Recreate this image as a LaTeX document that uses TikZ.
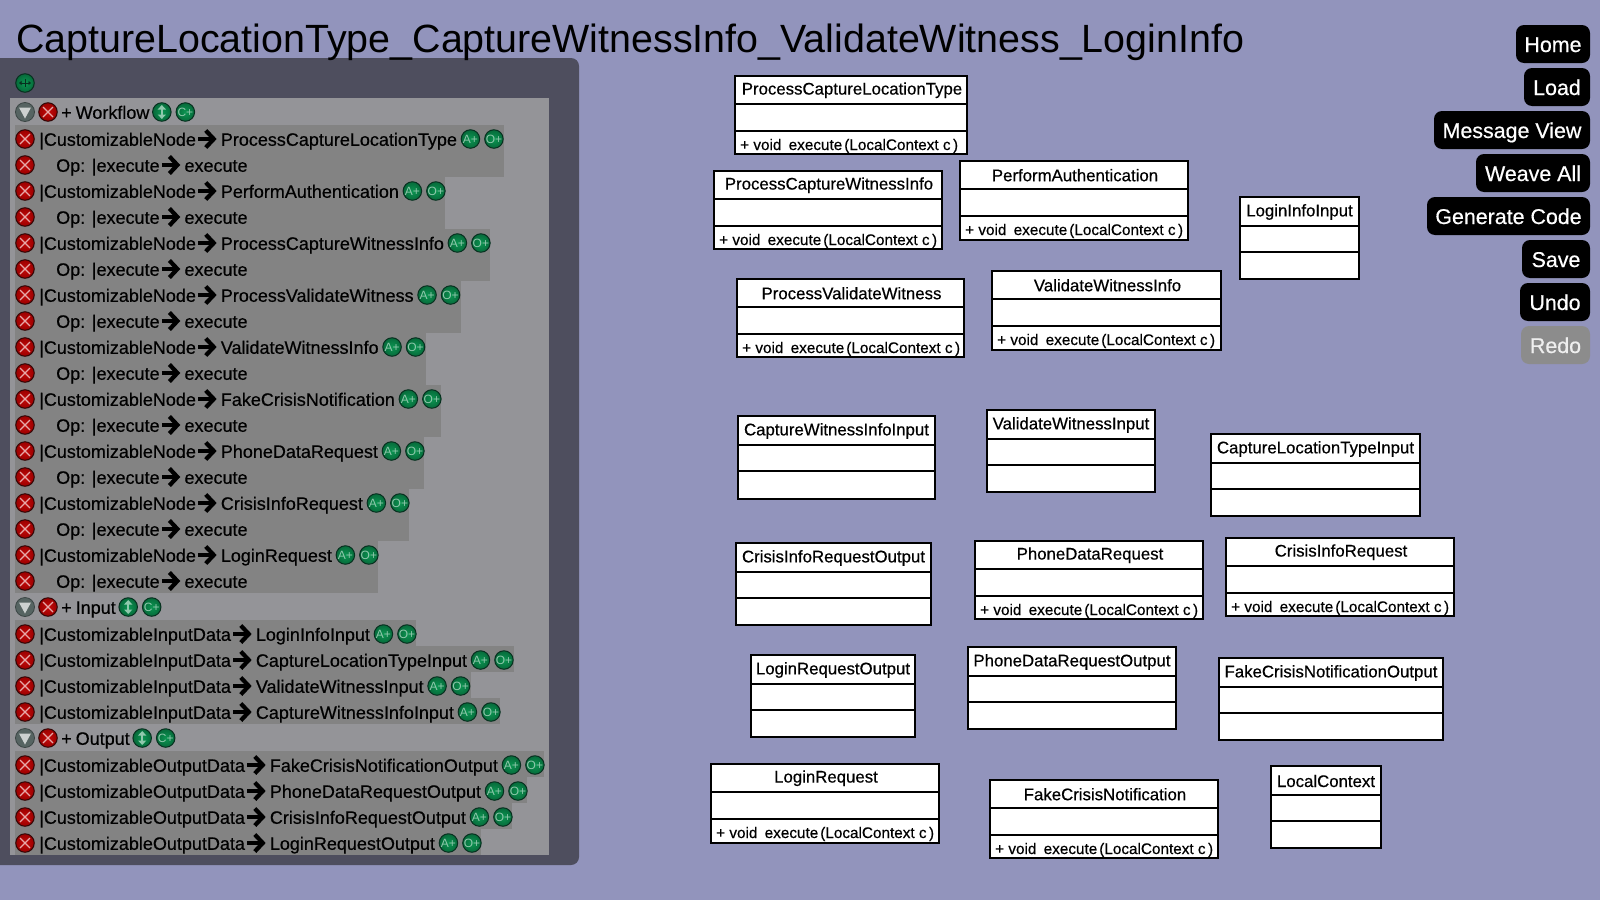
\documentclass[tikz,border=0pt]{standalone}
\usepackage{fontspec}
\setmainfont[FakeBold=0.5]{Liberation Sans}
\newfontfamily\plainfont{Liberation Sans}
\usetikzlibrary{arrows.meta,calc,positioning}
\definecolor{pagebg}{HTML}{9294BC}
\definecolor{panelbg}{HTML}{4E4E5E}
\definecolor{innerbg}{HTML}{949498}
\definecolor{bandbg}{HTML}{838383}
\definecolor{greenb}{HTML}{066A3A}
\definecolor{greenl}{HTML}{0C9552}
\definecolor{greend}{HTML}{07301F}
\definecolor{greent}{HTML}{8FC8AC}
\definecolor{redb}{HTML}{9A0000}
\definecolor{redl}{HTML}{C40A0A}
\definecolor{redd}{HTML}{320606}
\definecolor{xcol}{HTML}{E6A8A8}
\definecolor{greyb}{HTML}{566462}
\definecolor{redotext}{HTML}{EEEEEE}
\newcommand{\fsz}[1]{\fontsize{#1pt}{#1pt}\selectfont}
\tikzset{
  x=1pt,y=-1pt,
  rowtext/.style={inner sep=0pt,text height=15pt,text depth=0pt,anchor=base west,font=\fsz{18},text=black},
  bigarrow/.style={line width=4.2pt,shorten <=2pt,shorten >=4pt,-{Straight Barb[length=8pt,width=17pt,line width=4.2pt]}},
  roundbtn/.style={circle,inner sep=0pt,minimum size=18.5pt,draw=#1d,line width=1pt,shading=radial,inner color=#1l,outer color=#1b},
  greenbtn/.style={roundbtn=green,text=greent,font=\plainfont\fsz{12}},
  redbtn/.style={roundbtn=red},
  greybtn/.style={circle,inner sep=0pt,minimum size=19pt,fill=greyb,draw=greyb!70!black,line width=.8pt},
  umlbox/.style={rectangle,draw=black,fill=white,line width=2pt,inner sep=0pt},
  umlrule/.style={draw=black,line width=2pt},
  umltitle/.style={inner sep=0pt,font=\fsz{16.8},text=black},
  umlop/.style={inner sep=0pt,font=\fsz{15.3},text=black,anchor=base west},
  navbtn/.style={rectangle,rounded corners=8pt,fill=black,text=white,font=\fsz{21.4},inner sep=0pt,text height=16pt,text depth=0pt},
  xmark/.style={draw=xcol,line width=1.3pt},
  updown/.style={draw=greent,line width=1.8pt,{Triangle[length=4.5pt,width=8pt]}-{Triangle[length=4.5pt,width=8pt]}},
  leftright/.style={draw=greend,line width=.8pt,{Triangle[length=2.5pt,width=4pt]}-{Triangle[length=2.5pt,width=4pt]}},
}
\newcommand{\bandrect}[3]{\fill[bandbg] (15,#1) rectangle (#3,#2);}
\newcommand{\xbtn}[2]{% name, position
  \node[redbtn] (#1) at #2 {};
  \draw[xmark] ($(#1.center)+(-5,-5)$) -- ($(#1.center)+(5,5)$);
  \draw[xmark] ($(#1.center)+(-5,5)$) -- ($(#1.center)+(5,-5)$);
}
\newcommand{\listrow}[5]{% id, y, x-start, left, right
  \xbtn{#1x}{(25,#2)}
  \node[rowtext] (#1l) at (#3,#2+6.8) {#4};
  \node[rowtext] (#1r) at ([xshift=24.5pt,yshift=-7.5pt]#1l.east) {#5};
  \draw[bigarrow] (#1l.east) ++(0,.7) -- ($(#1r.west)+(0,.7)$);
}
\newcommand{\listadd}[1]{%
  \node[greenbtn,anchor=west] (#1a) at ($(#1r.east)+(3.5,.7)$) {A+};
  \node[greenbtn,right=4pt of #1a.east] (#1o) {O+};
}
\newcommand{\headrow}[3]{% id,y,text
  \node[greybtn] (#1g) at (25,#2) {};
  \fill[greyb!30!white] ($(#1g.center)+(-6,-4.5)$) -- ++(12,0) -- ++(-6,11) -- cycle;
  \xbtn{#1x}{(48,#2)}
  \node[rowtext] (#1t) at (61,#2+6.8) {+\hspace{-1pt} #3};
  \node[greenbtn,anchor=west] (#1u) at ($(#1t.east)+(2.5,.7)$) {};
  \draw[updown] ($(#1u.center)+(0,-7)$) -- ($(#1u.center)+(0,7)$);
  \node[greenbtn,right=4pt of #1u.east] (#1c) {C+};
}
\newcommand{\umlgeom}[8]{% id,title,x1,x2,y1,y2,title dx,title dy
  \node[umlbox,minimum width=#4pt-#3pt,minimum height=#6pt-#5pt] (#1) at ({(#3+#4)/2},{(#5+#6)/2}) {};
  \node[umltitle] (#1t) at ({(#3+#4)/2+#7},#5+#8) {#2};
}
\newcommand{\umlops}[6]{%
  \umlgeom{#1}{#2}{#3}{#4}{#5}{#6}{1}{14.2}
  \draw[umlrule] (#1.north west |- 0,#5+28) -- (#1.north east |- 0,#5+28);
  \draw[umlrule] (#1.north west |- 0,#5+55) -- (#1.north east |- 0,#5+55);
  \node[umlop] (#1o) at (#3+5,#5+74) {+ void\hspace{3pt} execute\hspace{2pt}(LocalContext c\hspace{2.5pt})};
}
\newcommand{\umlempty}[6]{%
  \umlgeom{#1}{#2}{#3}{#4}{#5}{#6}{0}{15}
  \draw[umlrule] (#1.north west |- 0,#5+29) -- (#1.north east |- 0,#5+29);
  \draw[umlrule] (#1.north west |- 0,#5+55) -- (#1.north east |- 0,#5+55);
}
\newcommand{\navb}[4][black]{% fill, text, left, y
  \node[navbtn,fill=#1,minimum width=1590pt-#3pt,minimum height=38pt] (nav#3) at ({(1590+#3)/2},#4) {#2};
}
\begin{document}
\begin{tikzpicture}
\useasboundingbox (0,0) rectangle (1600,900);
\fill[pagebg] (0,0) rectangle (1600,900);

% panel
\fill[panelbg] (0,58) [rounded corners=8pt] -- (579,58) -- (579,865) [sharp corners] -- (0,865) -- cycle;
\fill[innerbg] (10,98) rectangle (549,855);
\node[greenbtn] (topbtn) at (25,83) {};
\draw[leftright] ($(topbtn.center)+(-6,0)$) -- ($(topbtn.center)+(6,0)$);
\draw[draw=greend,line width=.8pt] ($(topbtn.center)+(0,-4)$) -- ($(topbtn.center)+(0,4)$);

\node[inner sep=0pt,anchor=base west,font=\plainfont\fsz{39.4},text=black] (title) at (16,52) {CaptureLocationType\_CaptureWitnessInfo\_ValidateWitness\_LoginInfo};

\bandrect{125}{177}{504}
\bandrect{177}{229}{445}
\bandrect{229}{281}{490}
\bandrect{281}{333}{461}
\bandrect{333}{385}{426}
\bandrect{385}{437}{441}
\bandrect{437}{489}{424}
\bandrect{489}{541}{409}
\bandrect{541}{593}{378}
\bandrect{620}{646}{416}
\bandrect{646}{672}{514}
\bandrect{672}{698}{471}
\bandrect{698}{724}{500}
\bandrect{751}{777}{544}
\bandrect{777}{803}{527}
\bandrect{803}{829}{512}
\bandrect{829}{855}{481}

\headrow{hw}{112}{Workflow}
\listrow{a1}{139}{39}{|CustomizableNode}{ProcessCaptureLocationType}\listadd{a1}
\listrow{b1}{165}{56}{Op: |execute}{execute}
\listrow{a2}{191}{39}{|CustomizableNode}{PerformAuthentication}\listadd{a2}
\listrow{b2}{217}{56}{Op: |execute}{execute}
\listrow{a3}{243}{39}{|CustomizableNode}{ProcessCaptureWitnessInfo}\listadd{a3}
\listrow{b3}{269}{56}{Op: |execute}{execute}
\listrow{a4}{295}{39}{|CustomizableNode}{ProcessValidateWitness}\listadd{a4}
\listrow{b4}{321}{56}{Op: |execute}{execute}
\listrow{a5}{347}{39}{|CustomizableNode}{ValidateWitnessInfo}\listadd{a5}
\listrow{b5}{373}{56}{Op: |execute}{execute}
\listrow{a6}{399}{39}{|CustomizableNode}{FakeCrisisNotification}\listadd{a6}
\listrow{b6}{425}{56}{Op: |execute}{execute}
\listrow{a7}{451}{39}{|CustomizableNode}{PhoneDataRequest}\listadd{a7}
\listrow{b7}{477}{56}{Op: |execute}{execute}
\listrow{a8}{503}{39}{|CustomizableNode}{CrisisInfoRequest}\listadd{a8}
\listrow{b8}{529}{56}{Op: |execute}{execute}
\listrow{a9}{555}{39}{|CustomizableNode}{LoginRequest}\listadd{a9}
\listrow{b9}{581}{56}{Op: |execute}{execute}

\headrow{hi}{607}{Input}
\listrow{c1}{634}{39}{|CustomizableInputData}{LoginInfoInput}\listadd{c1}
\listrow{c2}{660}{39}{|CustomizableInputData}{CaptureLocationTypeInput}\listadd{c2}
\listrow{c3}{686}{39}{|CustomizableInputData}{ValidateWitnessInput}\listadd{c3}
\listrow{c4}{712}{39}{|CustomizableInputData}{CaptureWitnessInfoInput}\listadd{c4}

\headrow{ho}{738}{Output}
\listrow{d1}{765}{39}{|CustomizableOutputData}{FakeCrisisNotificationOutput}\listadd{d1}
\listrow{d2}{791}{39}{|CustomizableOutputData}{PhoneDataRequestOutput}\listadd{d2}
\listrow{d3}{817}{39}{|CustomizableOutputData}{CrisisInfoRequestOutput}\listadd{d3}
\listrow{d4}{843}{39}{|CustomizableOutputData}{LoginRequestOutput}\listadd{d4}

% UML boxes
\umlops{u1}{ProcessCaptureLocationType}{735}{967}{76}{154}
\umlops{u2}{ProcessCaptureWitnessInfo}{714}{942}{171}{249}
\umlops{u3}{PerformAuthentication}{960}{1188}{161}{240}
\umlempty{u4}{LoginInfoInput}{1240}{1359}{197}{279}
\umlops{u5}{ProcessValidateWitness}{737}{964}{279}{357}
\umlops{u6}{ValidateWitnessInfo}{992}{1221}{271}{350}
\umlempty{u7}{CaptureWitnessInfoInput}{738}{935}{416}{499}
\umlempty{u8}{ValidateWitnessInput}{987}{1155}{410}{492}
\umlempty{u9}{CaptureLocationTypeInput}{1211}{1420}{434}{516}
\umlempty{u10}{CrisisInfoRequestOutput}{736}{931}{543}{625}
\umlops{u11}{PhoneDataRequest}{975}{1203}{541}{619}
\umlops{u12}{CrisisInfoRequest}{1226}{1454}{538}{616}
\umlempty{u13}{LoginRequestOutput}{751}{915}{655}{737}
\umlempty{u14}{PhoneDataRequestOutput}{968}{1176}{647}{729}
\umlempty{u15}{FakeCrisisNotificationOutput}{1219}{1443}{658}{740}
\umlops{u16}{LoginRequest}{711}{939}{764}{843}
\umlops{u17}{FakeCrisisNotification}{990}{1218}{780}{858}
\umlempty{u18}{LocalContext}{1271}{1381}{766}{848}

% navigation
\navb{Home}{1516}{44}
\navb{Load}{1524}{87}
\navb{Message View}{1434}{130}
\navb{Weave All}{1476}{173}
\navb{Generate Code}{1427}{216}
\navb{Save}{1522}{259}
\navb{Undo}{1520}{302}
\navb[gray!90!white]{\textcolor{redotext}{Redo}}{1521}{345}
\end{tikzpicture}
\end{document}
